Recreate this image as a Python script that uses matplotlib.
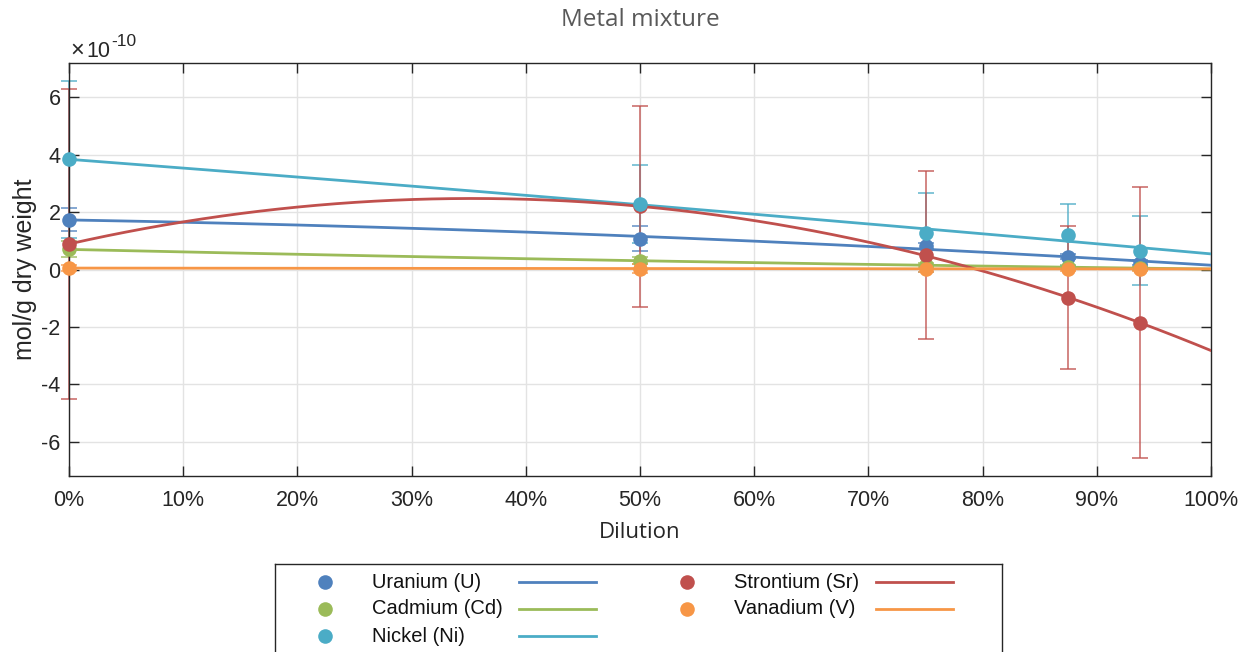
import numpy as np
import matplotlib
matplotlib.use('Agg')
import matplotlib.pyplot as plt
from matplotlib.ticker import FuncFormatter

# ---------------- data (values in units of 1e-10 mol/g dry weight) ----------------
dilution = [0.0, 0.5, 0.75, 0.875, 0.9375]

series_names = ["Uranium (U)", "Cadmium (Cd)", "Nickel (Ni)", "Strontium (Sr)", "Vanadium (V)"]
series_colors = ["#4f81bd", "#9bbb59", "#4bacc6", "#c0504d", "#f79646"]

uranium = [1.74, 1.08, 0.82, 0.45, 0.24]
uranium_err = [0.40, 0.43, 0.10, 0.10, 0.08]

cadmium = [0.70, 0.31, 0.14, 0.08, 0.05]
cadmium_err = [0.28, 0.12, 0.10, 0.06, 0.05]

nickel = [3.84, 2.29, 1.29, 1.19, 0.66]
nickel_err = [2.74, 1.36, 1.36, 1.08, 1.20]

strontium = [0.89, 2.20, 0.49, -0.98, -1.85]
strontium_err = [5.39, 3.50, 2.93, 2.48, 4.71]

vanadium = [0.05, 0.03, 0.03, 0.02, 0.02]
vanadium_err = [0.10, 0.15, 0.10, 0.08, 0.08]

SCALE = 1e-10
x_ticks = [0.0, 0.1, 0.2, 0.3, 0.4, 0.5, 0.6, 0.7, 0.8, 0.9, 1.0]
y_ticks = [-6, -4, -2, 0, 2, 4, 6]

values = [uranium, cadmium, nickel, strontium, vanadium]
errors = [uranium_err, cadmium_err, nickel_err, strontium_err, vanadium_err]

# ---------------- figure ----------------
plt.rcParams['font.family'] = ['Liberation Sans', 'DejaVu Sans']
plt.rcParams['axes.unicode_minus'] = False

W, H = 1250, 652
fig = plt.figure(figsize=(W / 100, H / 100), dpi=100)
ax = fig.add_axes([69 / W, 1 - 476 / H, (1211 - 69) / W, (476 - 63) / H])

dark = "#262626"
x = np.array(dilution)
xs = np.linspace(0, 1, 300)

# error bars
for y, e, c in zip(values, errors, series_colors):
    eb = ax.errorbar(x, np.array(y) * SCALE, yerr=np.array(e) * SCALE, fmt='none',
                     ecolor=c, alpha=0.75, capsize=6, elinewidth=1.3, capthick=1.3,
                     zorder=2)
    for art in list(eb.lines[1]) + list(eb.lines[2]):
        art.set_clip_on(False)

# quadratic fit lines
for y, c in zip(values, series_colors):
    coef = np.polyfit(x, np.array(y), 2)
    ax.plot(xs, np.polyval(coef, xs) * SCALE, color=c, lw=2.0, zorder=3)

# markers
order = [0, 1, 3, 2, 4]
for i in order:
    ax.plot(x, np.array(values[i]) * SCALE, 'o', color=series_colors[i], ms=10.5,
            mec='none', clip_on=False, zorder=4)

ax.set_xlim(0, 1)
ax.set_ylim(-7.2 * SCALE, 7.2 * SCALE)
ax.set_xticks(x_ticks)
ax.set_yticks([t * SCALE for t in y_ticks])
ax.xaxis.set_major_formatter(FuncFormatter(lambda v, p: f"{v * 100:.0f}%"))
ax.yaxis.set_major_formatter(FuncFormatter(lambda v, p: f"{v / SCALE:.0f}"))

ax.grid(True, color="#e3e3e3", lw=1.0, zorder=0)
ax.set_axisbelow(True)
ax.tick_params(direction='in', length=7, width=1, colors=dark, labelsize=15.5,
               top=True, right=True)
ax.tick_params(axis='x', pad=10)
ax.tick_params(axis='y', pad=6)
for s in ax.spines.values():
    s.set_color(dark)
    s.set_linewidth(1.0)

# exponent label (x10^-10)
fig.text(70 / W, 1 - 57 / H, "\u00d7", fontsize=17, color=dark, ha='left', va='baseline')
fig.text(86 / W, 1 - 57 / H, "10", fontsize=15.5, color=dark, ha='left', va='baseline')
fig.text(111 / W, 1 - 46 / H, "-10", fontsize=12.5, color=dark, ha='left', va='baseline')

ax.set_ylabel("mol/g dry weight", fontsize=18, color=dark, va='center')
ax.yaxis.set_label_coords((25 - 69) / (1211 - 69), 0.5)
ax.set_xlabel("Dilution", fontsize=16, color=dark, family=['Open Sans', 'DejaVu Sans'],
              va='center')
ax.xaxis.set_label_coords(0.5, (476 - 533) / (476 - 63))

fig.text(640 / W, 1 - 20 / H, "Metal mixture", fontsize=17.5, color="#595959",
         family=['Open Sans', 'DejaVu Sans'], ha='center', va='center')

# ---------------- legend (manual, box cut by figure bottom) ----------------
lx0, lx1, ltop = 275, 1002, 564
lax = fig.add_axes([lx0 / W, 0, (lx1 - lx0) / W, (H - ltop) / H])
lax.set_xlim(0, lx1 - lx0)
lax.set_ylim(0, H - ltop)
lax.set_xticks([])
lax.set_yticks([])
lax.spines['bottom'].set_visible(False)
for k in ['left', 'right', 'top']:
    lax.spines[k].set_color(dark)
    lax.spines[k].set_linewidth(1.0)

rows_y = [H - 582, H - 609, H - 636]
cols = [dict(m=50, t=97, l0=244, l1=321), dict(m=412, t=459, l0=601, l1=678)]
for i, (name, c) in enumerate(zip(series_names, series_colors)):
    col = cols[0] if i < 3 else cols[1]
    ry = rows_y[i if i < 3 else i - 3]
    lax.plot([col['m']], [ry], 'o', color=c, ms=10.5, mec='none', clip_on=False)
    lax.text(col['t'], ry, name, fontsize=14.5, color="#111111", va='center', ha='left')
    lax.plot([col['l0'], col['l1']], [ry, ry], color=c, lw=2.0)

fig.savefig("out.png", dpi=100)
